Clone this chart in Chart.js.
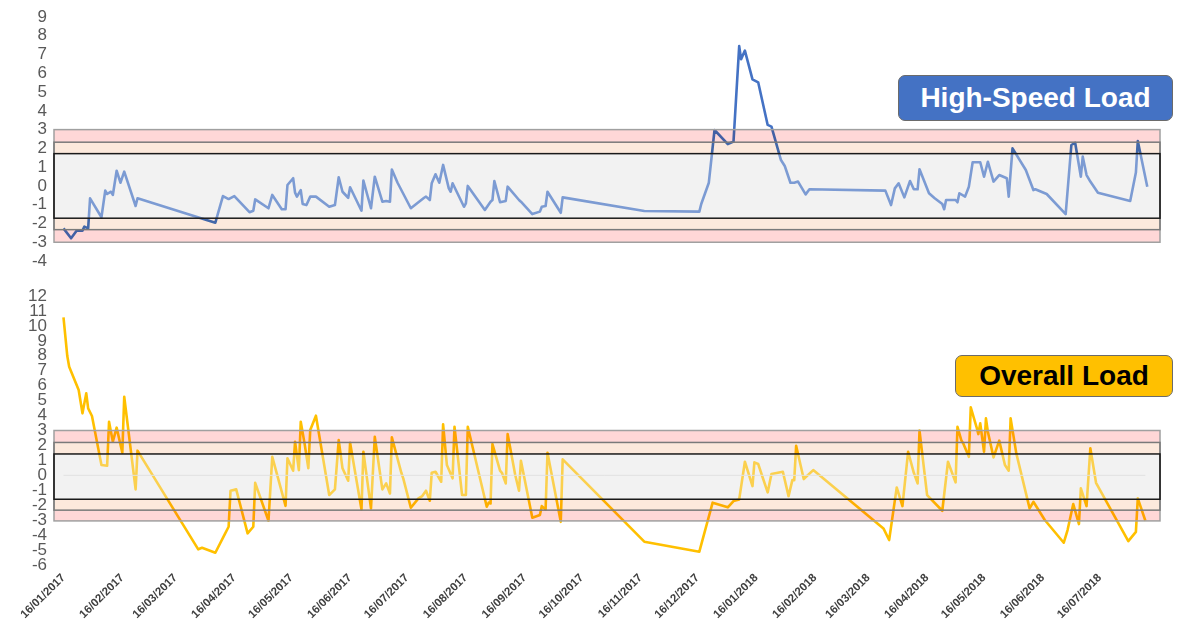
<!DOCTYPE html>
<html><head><meta charset="utf-8">
<script src="https://cdn.jsdelivr.net/npm/chart.js@4.4.1/dist/chart.umd.min.js"></script>
<style>
html,body{margin:0;padding:0;background:#fff;width:1177px;height:637px;overflow:hidden;font-family:"Liberation Sans",Arial,sans-serif}
#top{position:absolute;left:0;top:0;width:1177px;height:280px}
#bot{position:absolute;left:0;top:280px;width:1177px;height:357px}
.tag{position:absolute;border:1.5px solid #6b6b6b;border-radius:7px;font-weight:bold;font-size:28px;display:flex;align-items:center;justify-content:center;box-sizing:border-box;font-family:"Liberation Sans",Arial,sans-serif}
#tagHS{left:898px;top:75px;width:275px;height:46px;background:#4472C4;color:#fff}
#tagOV{left:955px;top:355px;width:218px;height:42px;background:#FFC000;color:#000}
</style></head><body>
<div id="top"><canvas id="c1"></canvas></div>
<div id="bot"><canvas id="c2"></canvas></div>
<div class="tag" id="tagHS">High-Speed Load</div>
<div class="tag" id="tagOV">Overall Load</div>
<script>
// x values are days since 16/01/2017
const xTickLabels = ['16/01/2017','16/02/2017','16/03/2017','16/04/2017','16/05/2017','16/06/2017','16/07/2017','16/08/2017','16/09/2017','16/10/2017','16/11/2017','16/12/2017','16/01/2018','16/02/2018','16/03/2018','16/04/2018','16/05/2018','16/06/2018','16/07/2018'];

const hsDays = [0,4,7,10,11,13,14,20,22,23,25,26,28,30,32,38,39,
80,84,87,90,98,100,101,108,110,115,117,118,121,122,123,125,126,128,130,133,
140,143,145,147,150,151,157,158,162,164,168,170,172,173,176,183,
190,191,193,194,196,198,200,203,204,205,211,212,213,
222,225,226,227,230,233,234,240,241,247,251,252,254,255,262,263,
306,335,336,340,343,350,353,356,357,359,363,366,371,373,
378,380,383,385,387,391,393,
433,436,438,440,443,446,448,450,451,456,459,463,464,465,
470,471,472,475,477,479,483,485,487,490,493,497,498,500,
507,511,512,518,528,531,533,536,537,539,541,545,562,565,566,571];
const hsValues = [-2.26,-2.79,-2.38,-2.38,-2.17,-2.26,-0.66,-1.67,-0.25,-0.43,-0.31,-0.48,0.81,0.17,0.76,-1.07,-0.66,
-1.96,-0.54,-0.70,-0.54,-1.40,-1.32,-0.72,-1.19,-0.48,-1.24,-1.24,0.05,0.41,-0.36,-0.57,-0.22,-0.96,-1.02,-0.57,-0.57,
-1.11,-1.02,0.46,-0.31,-0.63,-0.07,-1.32,0.28,-1.19,0.49,-0.84,-0.80,-0.84,0.87,0.17,-1.19,
-0.63,-0.57,-0.75,0.14,0.62,0.17,1.12,-0.13,-0.31,0.14,-1.11,-0.93,0.0,
-1.28,-0.84,-0.75,0.26,-0.87,-0.80,-0.04,-0.75,-0.84,-1.50,-1.37,-1.11,-1.07,-0.31,-1.43,-0.61,
-1.34,-1.37,-0.96,0.17,2.98,2.23,2.36,7.45,6.75,7.21,5.68,5.52,3.25,3.16,
1.38,1.06,0.17,0.17,0.23,-0.45,-0.18,
-0.25,-1.02,-0.13,0.14,-0.61,0.26,-0.18,-0.18,0.89,-0.39,-0.66,-0.96,-1.24,-0.75,
-0.75,-0.87,-0.39,-0.57,-0.04,1.26,1.26,0.49,1.29,0.23,0.58,0.41,-0.57,2.0,
0.85,-0.22,-0.18,-0.43,-1.50,2.18,2.30,0.49,1.56,0.58,0.23,-0.36,-0.80,0.71,2.39,-0.04];

const ovDays = [0,2,3,8,10,12,13,15,20,23,24,26,28,31,32,38,39,
71,73,80,85,87,88,91,97,100,101,108,110,117,118,121,122,124,125,127,129,130,133,
140,143,145,147,150,151,157,158,162,164,168,170,172,173,
178,179,183,187,189,191,193,194,196,199,200,202,205,206,210,212,213,
223,224,225,226,230,231,233,234,238,240,241,247,251,252,254,255,262,263,
306,335,342,350,353,356,359,363,364,366,371,373,
379,382,384,385,386,390,395,
432,435,439,442,445,448,450,451,455,463,466,470,471,473,474,477,478,481,482,483,485,486,487,490,493,496,498,499,502,
509,511,517,527,529,532,535,536,539,541,544,561,565,566,570];
const ovValues = [10.57,7.98,7.27,5.71,4.15,5.49,4.48,3.97,0.69,0.64,3.59,2.25,3.19,1.51,5.26,-0.94,1.65,
-4.95,-4.85,-5.18,-3.93,-3.44,-1.03,-0.94,-3.88,-3.44,-0.50,-3.04,1.24,-2.04,1.14,0.31,2.25,0.35,3.59,2.14,0.47,3.03,3.99,
-1.32,-0.94,2.36,0.47,-0.36,2.18,-2.28,1.58,-2.21,2.58,-0.94,-0.54,-1.21,2.54,
0.17,-0.20,-2.17,-1.54,-1.39,-1.03,-1.70,0.17,0.24,-0.43,3.41,0.69,-0.20,3.25,-1.32,-1.32,3.25,
-2.10,-1.83,-1.88,2.09,0.31,0.17,-0.54,2.76,0.02,-1.03,0.98,-2.84,-2.66,-2.06,-2.28,1.51,-3.11,1.07,
-4.44,-5.11,-1.83,-2.14,-1.72,-1.61,0.91,-0.72,0.87,0.76,-1.14,0.09,
0.24,-1.39,-0.32,-0.32,1.98,-0.25,0.35,
-3.55,-4.33,-0.81,-2.06,1.58,0.17,-0.54,2.99,-1.32,-2.37,0.91,-0.47,3.25,2.36,2.14,1.24,4.55,3.25,2.76,3.48,1.58,3.81,2.92,1.20,2.32,0.69,0.31,3.81,1.47,
-2.21,-1.77,-2.99,-4.51,-3.66,-1.92,-3.26,-0.87,-2.06,1.81,-0.50,-4.40,-3.78,-1.54,-3.04];

const zeroLineDays = [0, 570];
const zeroLineValues = [0, 0];

// control bands: outer top, middle top, inner top, inner bottom, middle bottom, outer bottom
const hsBands = [3, 2.33, 1.72, -1.72, -2.33, -3];
const ovBands = [3, 2.2, 1.43, -1.6, -2.33, -3.05];

const X_MIN = -5, X_MAX = 577.7;
const BASE = Date.UTC(2017, 0, 16);
const tickOffsets = xTickLabels.map(s => { const [d, m, y] = s.split('/').map(Number); return (Date.UTC(y, m - 1, d) - BASE) / 86400000; });
const pts = (days, vals) => days.map((d, i) => ({ x: d, y: vals[i] }));

const bandPlugin = {
  id: 'bands',
  beforeDatasetsDraw(chart, args, opts) {
    const { ctx, chartArea: { left, right }, scales: { y } } = chart;
    const b = opts.bands;
    const t = y.getPixelForValue(b[2]), bt = y.getPixelForValue(b[3]);
    ctx.save(); ctx.fillStyle = '#F2F2F2'; ctx.fillRect(left, t, right - left, bt - t); ctx.restore();
  },
  afterDatasetsDraw(chart, args, opts) {
    const { ctx, chartArea: { left, right }, scales: { y } } = chart;
    const p = opts.bands.map(v => y.getPixelForValue(v));
    const w = right - left;
    ctx.save();
    ctx.globalCompositeOperation = 'multiply';
    ctx.fillStyle = '#FFD7D7';
    ctx.fillRect(left, p[0], w, p[1] - p[0]); ctx.fillRect(left, p[4], w, p[5] - p[4]);
    ctx.fillStyle = '#FCE9DC';
    ctx.fillRect(left, p[1], w, p[2] - p[1]); ctx.fillRect(left, p[3], w, p[4] - p[3]);
    ctx.globalCompositeOperation = 'source-over';
    ctx.fillStyle = 'rgba(242,242,242,0.32)';
    ctx.fillRect(left, p[2], w, p[3] - p[2]);
    ctx.lineWidth = 1.5;
    ctx.strokeStyle = '#A0A0A0'; ctx.strokeRect(left, p[0], w, p[5] - p[0]);
    ctx.strokeStyle = '#7A7A7A'; ctx.strokeRect(left, p[1], w, p[4] - p[1]);
    ctx.strokeStyle = '#1A1A1A'; ctx.strokeRect(left, p[2], w, p[3] - p[2]);
    ctx.restore();
  }
};

const yTicks = { stepSize: 1, autoSkip: false, padding: 7, color: '#595959', font: { family: '"Liberation Sans", Arial, sans-serif', size: 17, lineHeight: 1 } };

function yScale(min, max) {
  return { min, max, ticks: yTicks, grid: { display: false, drawTicks: false }, border: { display: false }, afterFit(s) { s.width = 54; } };
}

new Chart(document.getElementById('c1'), {
  type: 'line',
  data: { datasets: [{ data: pts(hsDays, hsValues), borderColor: '#4472C4', borderWidth: 2.6, pointRadius: 0, tension: 0, borderJoinStyle: 'round' }] },
  options: {
    responsive: true, maintainAspectRatio: false, animation: false,
    layout: { padding: { top: 17, bottom: 19, right: 17, left: 0 } },
    plugins: { legend: { display: false }, tooltip: { enabled: false }, bands: { bands: hsBands } },
    scales: {
      x: { type: 'linear', min: X_MIN, max: X_MAX, display: false },
      y: yScale(-4, 9)
    }
  },
  plugins: [bandPlugin]
});

new Chart(document.getElementById('c2'), {
  type: 'line',
  data: { datasets: [
    { data: pts(zeroLineDays, zeroLineValues), borderColor: '#D9D9D9', borderWidth: 1, pointRadius: 0 },
    { data: pts(ovDays, ovValues), borderColor: '#FFC000', borderWidth: 2.6, pointRadius: 0, tension: 0, borderJoinStyle: 'round' }
  ] },
  options: {
    responsive: true, maintainAspectRatio: false, animation: false,
    layout: { padding: { top: 16, bottom: 0, right: 17, left: 0 } },
    plugins: { legend: { display: false }, tooltip: { enabled: false }, bands: { bands: ovBands } },
    scales: {
      x: {
        type: 'linear', min: X_MIN, max: X_MAX,
        grid: { display: false, drawTicks: false }, border: { display: false },
        afterBuildTicks(s) { s.ticks = tickOffsets.map(v => ({ value: v })); },
        afterFit(s) { s.height = 72; },
        ticks: { autoSkip: false, maxRotation: 45, minRotation: 45, padding: 6, color: '#404040',
          font: { family: '"Liberation Sans", Arial, sans-serif', size: 11.5, weight: 'bold' },
          callback: (v, i) => xTickLabels[i] }
      },
      y: yScale(-6, 12)
    }
  },
  plugins: [bandPlugin]
});
</script>
</body></html>
